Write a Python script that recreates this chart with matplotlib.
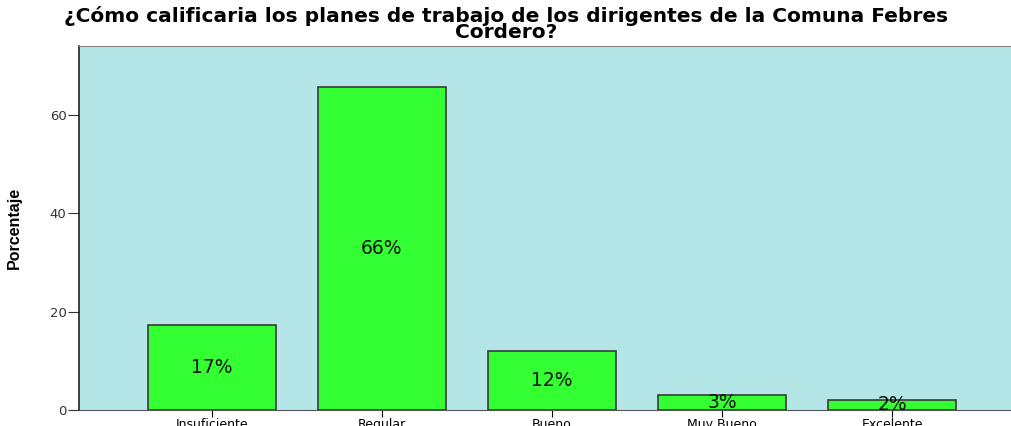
import matplotlib.pyplot as plt
from matplotlib import rcParams
rcParams['font.family'] = ['DejaVu Sans']

categorias = ['Insuficiente', 'Regular', 'Bueno', 'Muy Bueno', 'Excelente']
porcentajes = [17.3, 65.6, 12.0, 3.0, 2.1]
etiquetas = ['17%', '66%', '12%', '3%', '2%']

fig = plt.figure(figsize=(10.12, 4.26), dpi=100)
ax = fig.add_axes([79 / 1012, 16 / 426, 946 / 1012, 364 / 426])
ax.set_facecolor('#b4e6e8')

x = range(len(categorias))
bars = ax.bar(x, porcentajes, width=0.75, color='#33ff33', edgecolor='#3a3a3a', linewidth=1.2)
for b, t in zip(bars, etiquetas):
    ax.text(b.get_x() + b.get_width() / 2, b.get_height() / 2, t,
            ha='center', va='center', fontsize=13.5, color='#111111')

ax.set_xlim(-0.78, 4.78)
ax.set_ylim(0, 74)
ax.set_yticks([0, 20, 40, 60])
ax.set_xticks(list(x))
ax.set_xticklabels(categorias, fontsize=9)
ax.tick_params(axis='y', labelsize=9.5, length=8, pad=1, colors='#333333')
ax.tick_params(axis='x', length=5, pad=1)
for s in ['top', 'right']:
    ax.spines[s].set_color('#888888')
ax.spines['bottom'].set_color('#555555')
ax.spines['left'].set_color('#222222')
ax.spines['left'].set_linewidth(1.2)

ax.set_ylabel('Porcentaje', fontsize=11.5, fontweight='bold',
              family=['Liberation Sans Narrow', 'Liberation Sans'], labelpad=20)

fig.text(0.5, 0.985, '¿Cómo calificaria los planes de trabajo de los dirigentes de la Comuna Febres\nCordero?',
         ha='center', va='top', fontsize=14.5, fontweight='bold', linespacing=0.8)

plt.savefig('out.png')
